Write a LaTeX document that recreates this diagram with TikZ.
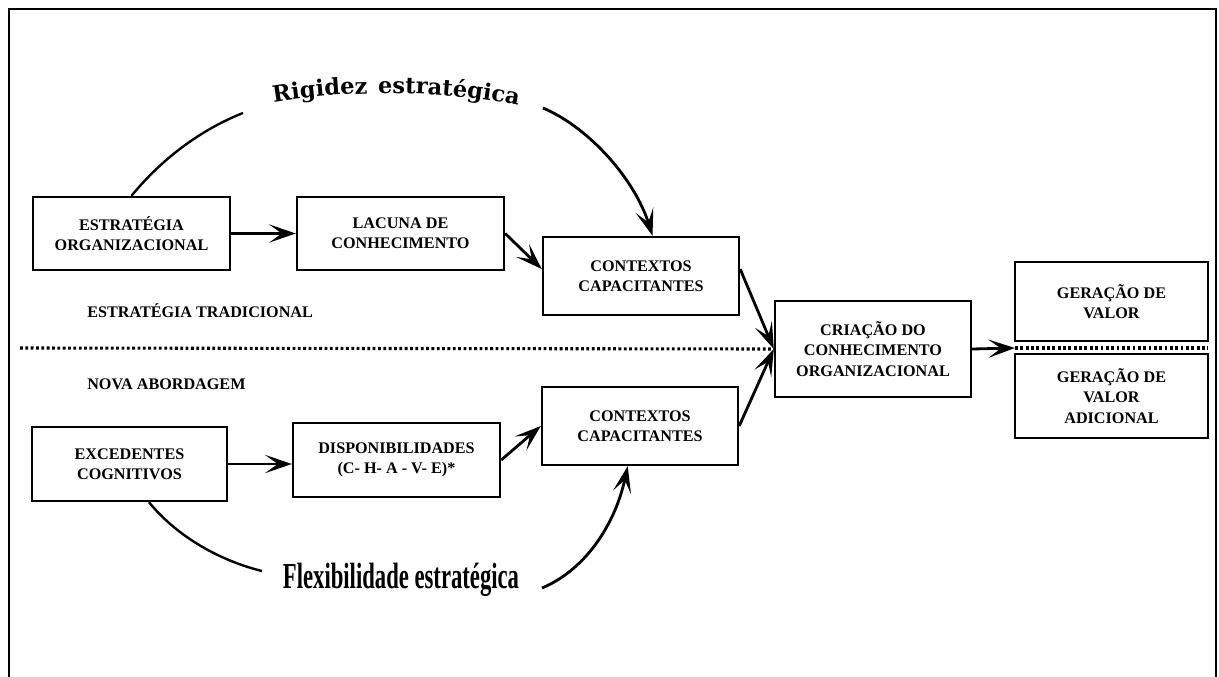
\documentclass[tikz,border=0pt]{standalone}
\usepackage{graphicx}
\usepackage{fontspec}
\setmainfont{Liberation Serif}
\newfontfamily\arcofont[LetterSpace=12]{DejaVu Serif}
\usetikzlibrary{calc,positioning,arrows.meta,decorations.text}
\tikzset{
  caixa/.style={draw,line width=1.7pt,align=center,inner sep=2pt,
    font=\fontsize{11.5}{14.5}\selectfont\bfseries},
  seta/.style={line width=2pt,-{Stealth[length=19pt,width=13pt,inset=9pt]}},
  curva/.style={line width=1.7pt},
  divisa/.style={line width=2.2pt,dash pattern=on 2pt off 1.8pt},
  rotulo/.style={anchor=west,inner sep=0pt,font=\fontsize{11.5}{14.5}\selectfont\bfseries},
}
\newcommand{\caixa}[6]{%
  \node[caixa,minimum width=#4*0.025cm,minimum height=#5*0.025cm] (#1) at (#2,#3) {#6};}

\begin{document}
\begin{tikzpicture}[x=0.025cm,y=0.025cm]
  \useasboundingbox (0,0) rectangle (1219,-677);
  \draw[line width=2pt] (9,-690) -- (9,-9) -- (1216,-9) -- (1216,-690);
  % estrategia tradicional
  \caixa{estrat}{131.5}{-233.5}{197}{73}{ESTRATÉGIA\\ORGANIZACIONAL}
  \caixa{lacuna}{400.5}{-233.5}{207}{73}{LACUNA DE\\CONHECIMENTO}
  \caixa{ctxA}{641}{-276}{196}{78}{CONTEXTOS\\CAPACITANTES}
  % nova abordagem
  \caixa{exced}{129.5}{-464}{195}{74}{EXCEDENTES\\COGNITIVOS}
  \caixa{disp}{396.5}{-460}{207}{74}{DISPONIBILIDADES\\(C- H- A - V- E)*}
  \caixa{ctxB}{640}{-426}{196}{78}{CONTEXTOS\\CAPACITANTES}
  % criacao e valor
  \caixa{criacao}{873}{-349}{196}{96}{CRIAÇÃO DO\\CONHECIMENTO\\ORGANIZACIONAL}
  \caixa{valor}{1111.5}{-301.5}{193}{79}{GERAÇÃO DE\\VALOR}
  \caixa{valorad}{1111.5}{-396}{193}{84}{GERAÇÃO DE\\VALOR\\ADICIONAL}
  \node[rotulo] (tradic) at (87,-311) {ESTRATÉGIA TRADICIONAL};
  \node[rotulo] (nova) at (87,-384) {NOVA ABORDAGEM};
  % titulos das curvas
  \path[decorate,decoration={text along path,text align=center,
    text={|\arcofont\bfseries\fontsize{16}{16}\selectfont|Rigidez estratégica}}]
    (258,-105) .. controls (340,-89) and (450,-89) .. (534,-109);
  \node (flex) at (401,-580)
    {\scalebox{0.62}[1]{\fontsize{26}{26}\selectfont\bfseries Flexibilidade estratégica}};
  \coordinate (rigA) at (243,-113);
  \coordinate (rigB) at (543,-108);
  \coordinate (flexA) at (262,-571);
  \coordinate (flexB) at (542,-588);
  \draw[curva] (estrat.north) .. controls (165,-155) and (205,-128) .. (rigA);
  \draw[curva,seta] (rigB) .. controls (590,-128) and (635,-180) .. (ctxA.74);
  \draw[curva] (exced.297) .. controls (180,-540) and (225,-562) .. (flexA);
  \draw[curva,seta] (flexB) .. controls (585,-570) and (615,-525) .. (ctxB.253);
  % setas
  \draw[seta] (estrat) -- (lacuna);
  \draw[seta] (lacuna.east) -- (ctxA.176);
  \draw[seta] (exced.east) -- (exced.east -| disp.west);
  \draw[seta] (disp.east) -- (ctxB.west);
  \draw[seta] (ctxA.4) -- (criacao.west);
  \draw[seta] (ctxB.east) -- (criacao.west);
  % divisao
  \coordinate (divL) at (20,-348);
  \coordinate (divM) at (1015,-348);
  \coordinate (divR) at (1208,-348);
  \draw[divisa] (divL) -- (criacao.west);
  \draw[seta] (criacao.east) -- (divM);
  \draw[divisa] (divM) -- (divR);
\end{tikzpicture}
\end{document}
